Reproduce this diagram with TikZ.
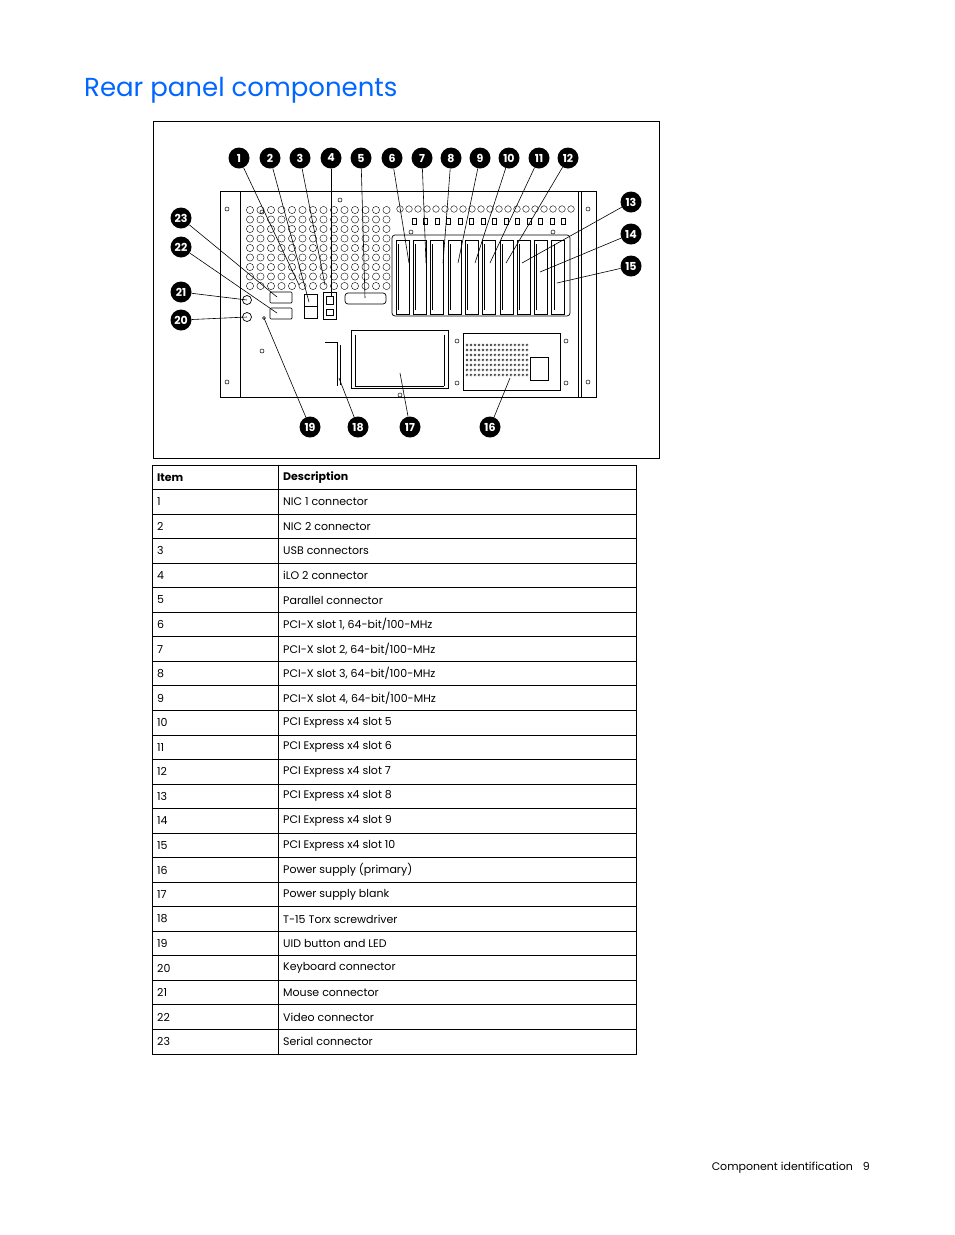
\documentclass[tikz,border=0pt]{standalone}
\usepackage{fontspec}
\setmainfont{Poppins}
\begin{document}
\begin{tikzpicture}[x=1pt,y=-1pt,
  badge/.style={circle,fill=black,text=white,inner sep=0pt,minimum size=21pt,font=\fontsize{11}{11}\selectfont\bfseries},
  lead/.style={line width=0.6pt},
  part/.style={draw,line width=0.7pt},
  cell/.style={anchor=west,font=\fontsize{11}{12}\selectfont,inner sep=0pt}]
\useasboundingbox (0,0) rectangle (954,1235);
\node[anchor=west,text={rgb,255:red,0;green,102;blue,255},font=\fontsize{26}{28}\selectfont,inner sep=0pt] (title) at (84,90) {Rear panel components};
\draw[line width=1pt] (153,121) rectangle (659,458);
% chassis
\draw[part,line width=1pt] (220,191) rectangle (581,397);
\draw[part] (220,191) rectangle (240,397);
\draw[part] (578,191) rectangle (596,397);
% vents
\foreach \i in {0,...,13} \foreach \j in {0,...,8}
  \draw[line width=0.4pt] (250+\i*10.5,210+\j*9.5) circle (3.6pt);
\foreach \i in {0,...,19}
  \draw[line width=0.4pt] (400+\i*9,209) circle (3.3pt);
\foreach \i in {0,...,13} \draw[line width=0.4pt] (412+\i*11.5,218) rectangle ++(4,6);
% slots
\draw[part,rounded corners=3pt] (392,235) rectangle (570,316);
\foreach \i in {0,...,9} {
  \draw[line width=0.5pt] (396+\i*17.3,240) rectangle ++(13,74);
  \draw[line width=0.4pt] (398+\i*17.3,244) -- ++(0,66);
}
% connectors
\draw[part,rounded corners=1pt] (270,292) rectangle (292,303);
\draw[part,rounded corners=1pt] (270,308) rectangle (292,319);
\draw[part] (304,294) rectangle (317,318);
\draw[part] (304,306) -- (317,306);
\draw[part] (323,292) rectangle (336,319);
\draw[part] (326,296) rectangle (333,304) (326,309) rectangle (333,315);
\draw[part,rounded corners=3pt] (345,293) rectangle (386,304);
\draw[part] (247,300) circle (4.5pt) (247,317) circle (4.5pt);
\draw[line width=0.5pt] (264,318) circle (1.5pt);
% screwdriver
\draw[part] (325,342) -- (337,342) -- (337,386);
\draw[part] (340,345) -- (340,385);
% power supply blank
\draw[part] (351,330) rectangle (448,388);
\draw[part] (355,335) -- (355,386) (444,335) -- (444,386) (355,386)--(444,386);
% power supply
\draw[part] (463,333) rectangle (560,390);
\foreach \i in {0,...,15} \foreach \j in {0,...,6}
  \draw[line width=0.3pt] (467+\i*4,345+\j*5) circle (1.2pt);
\draw[part] (530,357) rectangle (548,380);
% screws
\foreach \p in {(227,209),(227,382),(588,209),(588,382),(340,200),(411,232),(553,232),(400,395),(457,341),(457,383),(566,341),(566,383),(262,212),(262,351)}
  \draw[line width=0.5pt] \p circle (2pt);
% badges
\foreach \n/\x in {1/239,2/270,3/300,4/331,5/361,6/392,7/422,8/451,9/480,10/509,11/539,12/568}
  \node[badge] (b\n) at (\x,158) {\n};
\node[badge] (b13) at (631,202) {13};
\node[badge] (b14) at (631,234) {14};
\node[badge] (b15) at (631,266) {15};
\node[badge] (b23) at (181,218) {23};
\node[badge] (b22) at (181,247) {22};
\node[badge] (b21) at (181,292) {21};
\node[badge] (b20) at (181,320) {20};
\node[badge] (b19) at (310,427) {19};
\node[badge] (b18) at (358,427) {18};
\node[badge] (b17) at (410,427) {17};
\node[badge] (b16) at (490,427) {16};
\foreach \n/\x/\y in {1/299/285,2/309/302,3/325/285,4/331/297,5/365/298,6/409/263,7/426/263,8/443/263,9/458/263,10/475/263,11/490/263,12/506/263,13/522/263,14/540/272,15/557/283,23/277/297,22/277/313,21/247/300,20/247/317,19/264/318,18/339/378,17/400/373,16/510/378}
  {\coordinate (t\n) at (\x,\y); \draw[lead] (b\n) -- (t\n);}
% table
\draw[line width=0.8pt] (152,465) rectangle (636,1054);
\draw[line width=0.8pt] (278,465) -- (278,1054);
\foreach \k in {1,...,23} \draw[line width=0.8pt] (152,465+\k*24.54) -- (636,465+\k*24.54);
\node[cell,font=\fontsize{11}{12}\selectfont\bfseries] (hi) at (157,477.3) {Item};
\node[cell,font=\fontsize{11}{12}\selectfont\bfseries] (hd) at (283,477.3) {Description};
\foreach \k/\d in {1/NIC 1 connector,2/NIC 2 connector,3/USB connectors,4/iLO 2 connector,5/Parallel connector,6/{PCI-X slot 1, 64-bit/100-MHz},7/{PCI-X slot 2, 64-bit/100-MHz},8/{PCI-X slot 3, 64-bit/100-MHz},9/{PCI-X slot 4, 64-bit/100-MHz},10/PCI Express x4 slot 5,11/PCI Express x4 slot 6,12/PCI Express x4 slot 7,13/PCI Express x4 slot 8,14/PCI Express x4 slot 9,15/PCI Express x4 slot 10,16/Power supply (primary),17/Power supply blank,18/T-15 Torx screwdriver,19/UID button and LED,20/Keyboard connector,21/Mouse connector,22/Video connector,23/Serial connector}
  {\node[cell] (i\k) at (157,477.3+\k*24.54) {\k};
   \node[cell] (d\k) at (283,477.3+\k*24.54) {\d};}
\node[cell,anchor=east] (foot) at (870,1168) {Component identification\hspace{10pt}9};
\end{tikzpicture}
\end{document}
